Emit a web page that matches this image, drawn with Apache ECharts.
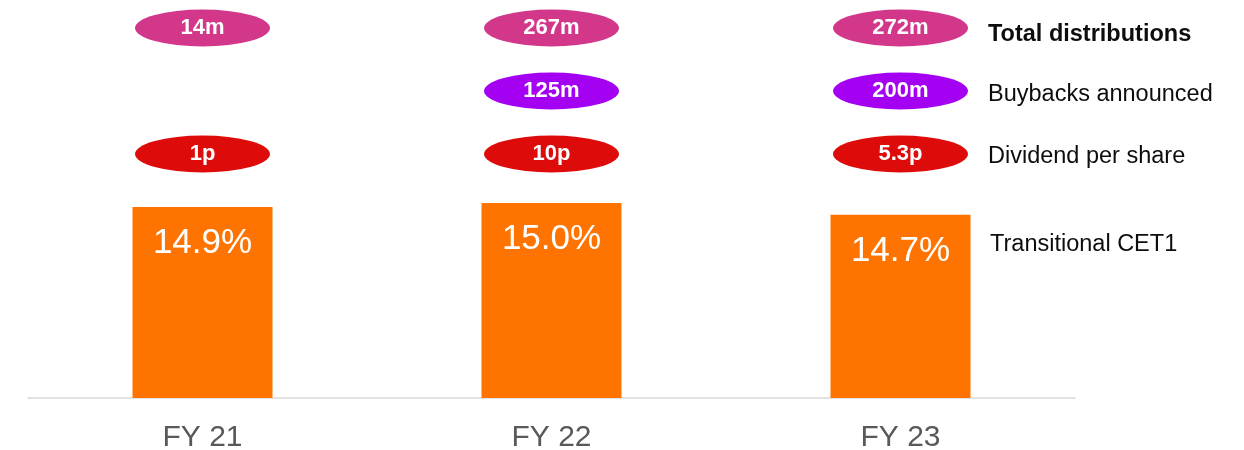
<!DOCTYPE html>
<html>
<head>
<meta charset="utf-8">
<script src="https://cdn.jsdelivr.net/npm/echarts@6/dist/echarts.min.js"></script>
<style>
  html, body { margin: 0; padding: 0; background: #ffffff; }
  #chart { width: 1244px; height: 450px; }
</style>
</head>
<body>
<div id="chart"></div>
<script>
// Financial years shown along the bottom
const categories = ['FY 21', 'FY 22', 'FY 23'];
// Transitional CET1 ratio, %
const cet1 = [14.9, 15.0, 14.7];
// Capital distributions per year
const totalDistributions = [14, 267, 272];   // £m
const buybacks = [null, 125, 200];           // £m
const dividendPerShare = [1, 10, 5.3];       // pence
// Row names of the distribution bubbles, top to bottom
const rows = ['Total distributions', 'Buybacks announced', 'Dividend per share'];
const barName = 'Transitional CET1';

const FONT = '"Liberation Sans", Arial, Helvetica, sans-serif';
const ELLIPSE = 'path://M0,50 A100,50 0 1,1 200,50 A100,50 0 1,1 0,50 Z';

function bubbleSeries(row, values, suffix, color) {
  return {
    type: 'scatter',
    name: row,
    xAxisIndex: 1,
    yAxisIndex: 1,
    symbol: ELLIPSE,
    symbolSize: [135, 37],
    itemStyle: { color: color, opacity: 1 },
    label: {
      show: true,
      position: 'inside',
      color: '#ffffff',
      fontFamily: FONT,
      fontWeight: 'bold',
      fontSize: 22,
      formatter: p => p.data.amount + suffix
    },
    emphasis: { disabled: true },
    data: categories.map((c, i) =>
      values[i] == null ? null : { value: [c, row], amount: values[i] })
  };
}

const chart = echarts.init(document.getElementById('chart'), null, { renderer: 'canvas' });
chart.setOption({
  animation: false,
  backgroundColor: '#ffffff',
  grid: [
    { left: 28, right: 169, top: 8, bottom: 52, outerBoundsMode: 'none', containLabel: false },
    { left: 28, right: 169, top: 28, height: 126, outerBoundsMode: 'none', containLabel: false }
  ],
  xAxis: [
    {
      type: 'category',
      gridIndex: 0,
      data: categories,
      axisLine: { lineStyle: { color: '#d9d9d9', width: 1.5 } },
      axisTick: { show: false },
      axisLabel: { color: '#595959', fontFamily: FONT, fontSize: 30, margin: 25 }
    },
    {
      type: 'category',
      gridIndex: 1,
      data: categories,
      show: false
    }
  ],
  yAxis: [
    {
      type: 'value',
      gridIndex: 0,
      min: 10,
      max: 20,
      show: false,
      splitLine: { show: false }
    },
    {
      type: 'category',
      gridIndex: 1,
      data: rows,
      inverse: true,
      boundaryGap: false,
      show: false
    }
  ],
  series: [
    {
      type: 'bar',
      name: barName,
      xAxisIndex: 0,
      yAxisIndex: 0,
      data: cet1,
      barWidth: 140,
      itemStyle: { color: '#ff7400' },
      label: {
        show: true,
        position: 'insideTop',
        distance: 19,
        color: '#ffffff',
        fontFamily: FONT,
        fontSize: 35,
        formatter: p => p.value.toFixed(1) + '%'
      },
      emphasis: { disabled: true }
    },
    bubbleSeries(rows[0], totalDistributions, 'm', '#d2378a'),
    bubbleSeries(rows[1], buybacks, 'm', '#a400f2'),
    bubbleSeries(rows[2], dividendPerShare, 'p', '#de0b0b')
  ],
  graphic: [
    { type: 'text', left: 988, top: 23, style: { text: rows[0], fill: '#0d0d0d', font: 'bold 23.5px ' + FONT } },
    { type: 'text', left: 988, top: 83, style: { text: rows[1], fill: '#0d0d0d', font: '23.5px ' + FONT } },
    { type: 'text', left: 988, top: 145, style: { text: rows[2], fill: '#0d0d0d', font: '23.5px ' + FONT } },
    { type: 'text', left: 990, top: 233, style: { text: barName, fill: '#0d0d0d', font: '23.5px ' + FONT } }
  ]
});
</script>
</body>
</html>
